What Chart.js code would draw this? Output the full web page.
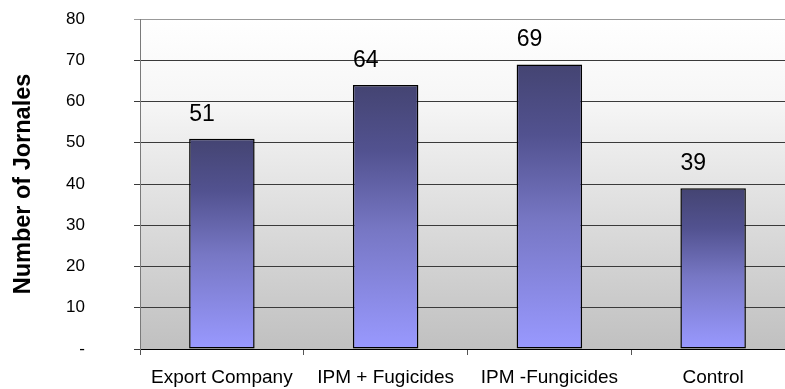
<!DOCTYPE html>
<html>
<head>
<meta charset="utf-8">
<script src="https://cdn.jsdelivr.net/npm/chart.js@4.4.1/dist/chart.umd.min.js"></script>
<style>
  html, body { margin: 0; padding: 0; background: #fff; overflow: hidden; }
  #wrap { width: 785px; height: 389px; overflow: hidden; }
</style>
</head>
<body>
<div id="wrap"><canvas id="c" width="800" height="389"></canvas></div>
<script>
// Labour demand per treatment (jornales)
const categories = ['Export Company', 'IPM + Fugicides', 'IPM -Fungicides', 'Control'];
const jornales = [51, 64, 69, 39];
const yTickLabels = ['-', '10', '20', '30', '40', '50', '60', '70', '80'];

const FONT = "'Liberation Sans', Arial, sans-serif";

// Plot area: white at the top fading to grey at the base
const plotBackground = {
  id: 'plotBackground',
  beforeDraw(chart) {
    const { ctx, chartArea: a } = chart;
    ctx.save();
    ctx.fillStyle = '#ffffff';
    ctx.fillRect(0, 0, chart.width, chart.height);
    const g = ctx.createLinearGradient(0, a.top, 0, a.bottom);
    g.addColorStop(0, '#ffffff');
    g.addColorStop(0.25, '#f6f6f6');
    g.addColorStop(1, '#c0c0c0');
    ctx.fillStyle = g;
    ctx.fillRect(a.left, a.top, a.right - a.left, a.bottom - a.top);
    ctx.restore();
  }
};

// Value labels, left-aligned over each bar
const valueLabels = {
  id: 'valueLabels',
  afterDatasetsDraw(chart) {
    const { ctx } = chart;
    const meta = chart.getDatasetMeta(0);
    ctx.save();
    ctx.font = '23px ' + FONT;
    ctx.fillStyle = '#000';
    ctx.textAlign = 'left';
    ctx.textBaseline = 'alphabetic';
    meta.data.forEach((bar, i) => {
      const left = bar.x - bar.width / 2;
      ctx.fillText(String(jornales[i]), left, bar.y - 18);
    });
    ctx.restore();
  }
};

function barGradient(context) {
  const chart = context.chart;
  if (!chart.chartArea || context.dataIndex === undefined) return '#7777cc';
  const y = chart.scales.y;
  const top = y.getPixelForValue(jornales[context.dataIndex]);
  const base = y.getPixelForValue(0);
  const g = chart.ctx.createLinearGradient(0, top, 0, base);
  g.addColorStop(0, '#444472');
  g.addColorStop(0.25, '#525290');
  g.addColorStop(0.55, '#7777c4');
  g.addColorStop(1, '#9999ff');
  return g;
}

new Chart(document.getElementById('c'), {
  type: 'bar',
  data: {
    labels: categories,
    datasets: [{
      data: jornales,
      backgroundColor: barGradient,
      borderColor: '#000000',
      borderWidth: 1.5,
      borderSkipped: false,
      barPercentage: 0.4,
      categoryPercentage: 1.0
    }]
  },
  options: {
    responsive: false,
    animation: false,
    devicePixelRatio: 1,
    layout: { padding: { left: 0, top: 19, right: 5, bottom: 0 } },
    plugins: {
      legend: { display: false },
      tooltip: { enabled: false }
    },
    scales: {
      x: {
        offset: true,
        grid: {
          offset: true,
          drawOnChartArea: false,
          drawTicks: true,
          tickLength: 6,
          color: '#555555'
        },
        border: { color: '#000000', width: 1 },
        ticks: {
          color: '#000000',
          font: { family: FONT, size: 19 },
          padding: 11,
          maxRotation: 0,
          autoSkip: false
        },
        afterFit(scale) {
          scale.height = 40;
          scale.paddingLeft = 0;
          scale.paddingRight = 0;
        }
      },
      y: {
        min: 0,
        max: 80,
        grid: {
          color: (c) => (c.tick && c.tick.value === 80 ? '#999999' : '#3a3a3a'),
          lineWidth: 1,
          drawTicks: true,
          tickLength: 6
        },
        border: { color: '#7a7a7a', width: 1 },
        ticks: {
          stepSize: 10,
          color: '#000000',
          font: { family: FONT, size: 17 },
          padding: 49,
          callback: (v) => yTickLabels[Math.round(v / 10)]
        },
        title: {
          display: true,
          text: 'Number of Jornales',
          color: '#000000',
          font: { family: FONT, size: 23.5, weight: 'bold' },
          padding: { top: 9, bottom: 0 }
        },
        afterFit(scale) {
          scale.width = 140;
          scale.paddingTop = 0;
          scale.paddingBottom = 0;
        }
      }
    }
  },
  plugins: [plotBackground, valueLabels]
});
</script>
</body>
</html>
